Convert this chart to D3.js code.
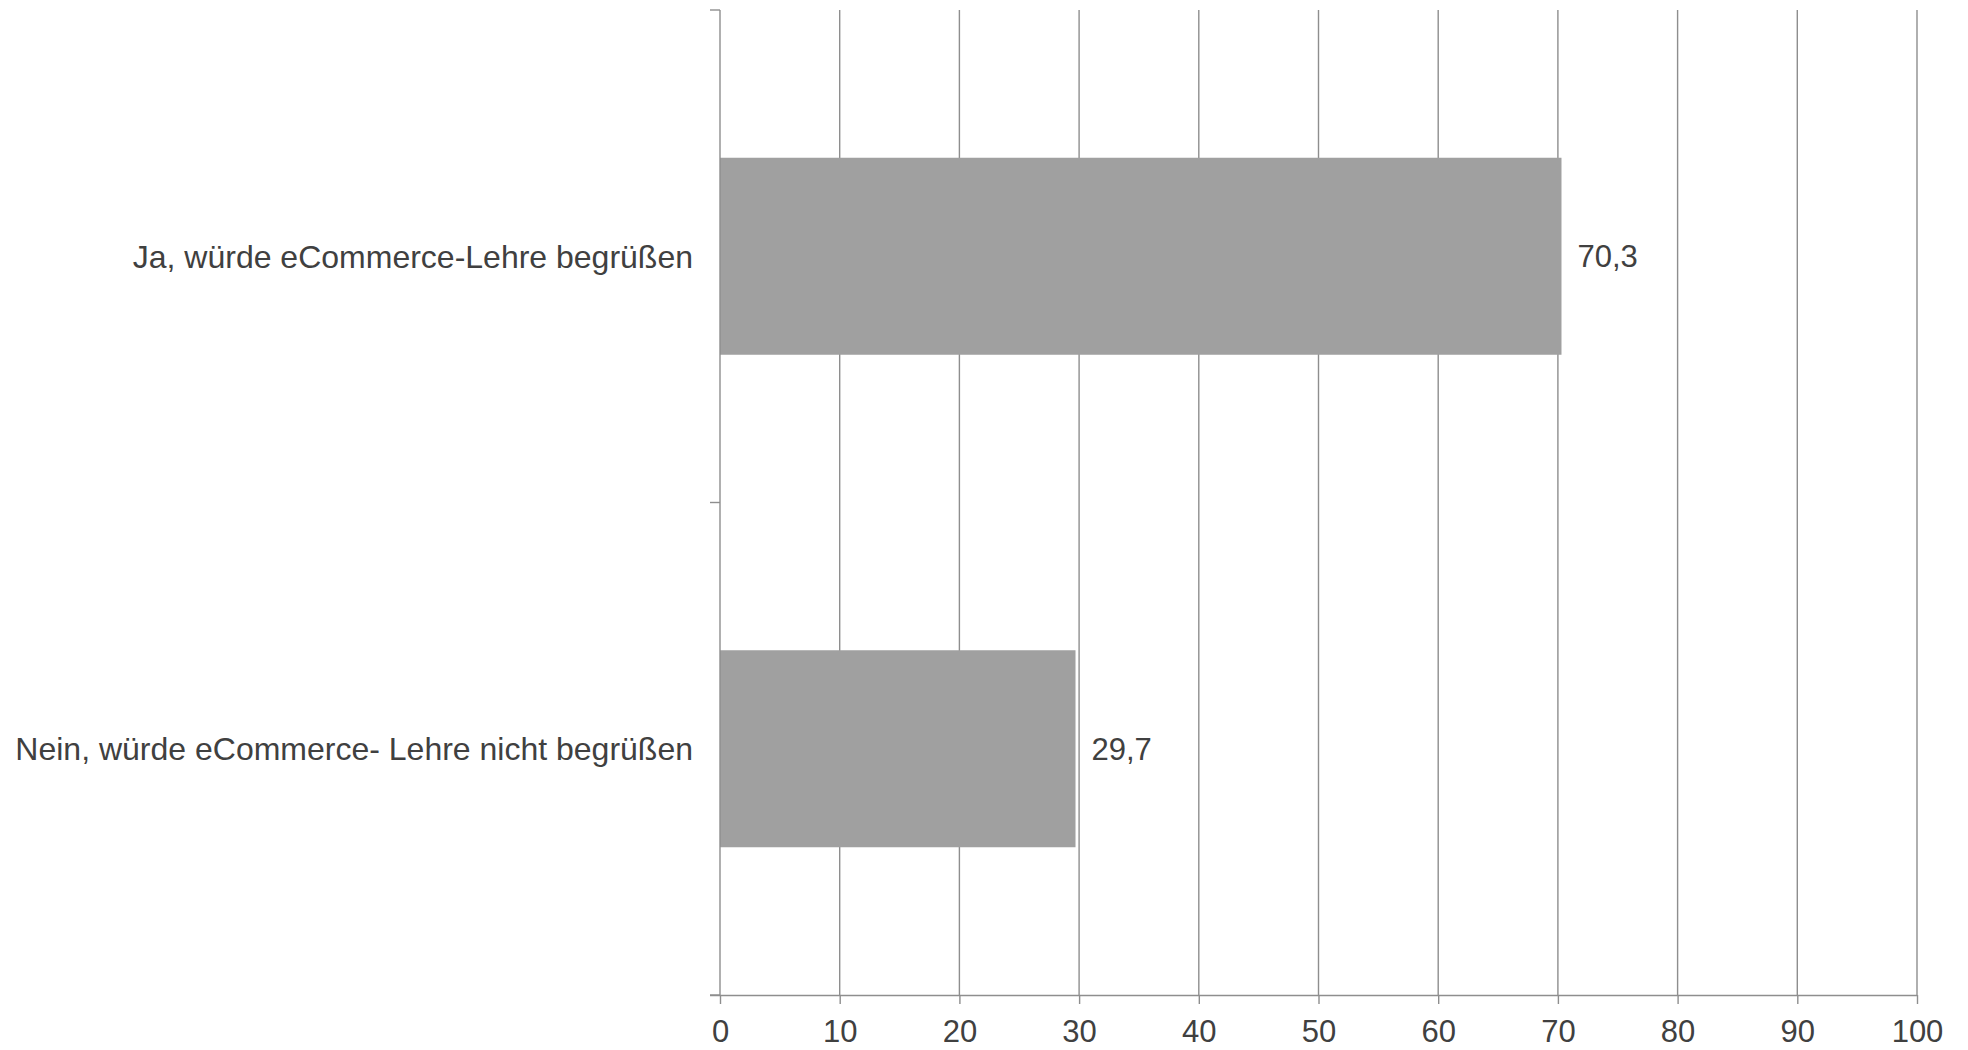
<!DOCTYPE html>
<html lang="de">
<head>
    <meta charset="UTF-8">
    <title>eCommerce-Lehre</title>
    <script src="https://d3js.org/d3.v7.min.js"></script>
    <style>
        body { margin: 0; background: #fff; }
        svg text { font-family: Arial, "Liberation Sans", sans-serif; fill: #404040; }
        .grid line { stroke: #8e8e8e; stroke-width: 1.4; }
        .axis path, .axis line { stroke: #8e8e8e; stroke-width: 1.4; }
    </style>
</head>
<body>
    <svg id="chart" width="1968" height="1050"></svg>

    <script>
        // data
        const categories = ["Ja, würde eCommerce-Lehre begrüßen", "Nein, würde eCommerce- Lehre nicht begrüßen"];
        const values = [70.3, 29.7];
        const xTicks = [0, 10, 20, 30, 40, 50, 60, 70, 80, 90, 100];

        const svg = d3.select("#chart");
        const mLeft = 720, mRight = 1917, mTop = 10, mBottom = 995;

        const x = d3.scaleLinear().domain([0, 100]).range([mLeft, mRight]);
        const y = d3.scaleBand().domain(categories).range([mTop, mBottom]).padding(0);
        const de = d3.formatLocale({ decimal: ",", thousands: ".", grouping: [3], currency: ["", " €"] });
        const fmt = de.format(".1f");

        // vertical gridlines
        svg.append("g")
            .attr("class", "grid")
            .selectAll("line")
            .data(xTicks.slice(1))
            .enter()
            .append("line")
            .attr("x1", d => x(d))
            .attr("x2", d => x(d))
            .attr("y1", mTop)
            .attr("y2", mBottom);

        // bars
        const bh = y.bandwidth() * 0.4;
        svg.append("g")
            .selectAll("rect")
            .data(categories)
            .enter()
            .append("rect")
            .attr("x", x(0))
            .attr("y", d => y(d) + (y.bandwidth() - bh) / 2)
            .attr("width", (d, i) => x(values[i]) - x(0))
            .attr("height", bh)
            .attr("fill", "#a0a0a0");

        // value labels
        svg.append("g")
            .selectAll("text")
            .data(categories)
            .enter()
            .append("text")
            .attr("x", (d, i) => x(values[i]) + 16)
            .attr("y", d => y(d) + y.bandwidth() / 2)
            .attr("dy", "0.36em")
            .style("font-size", "31px")
            .text((d, i) => fmt(values[i]));

        // x axis
        svg.append("g")
            .attr("class", "axis")
            .attr("transform", `translate(0,${mBottom})`)
            .call(d3.axisBottom(x).tickValues(xTicks).tickSizeInner(9).tickSizeOuter(0).tickPadding(16))
            .call(g => g.select(".domain").attr("d", `M${mLeft - 10},0.5H${mRight}`))
            .call(g => g.selectAll("text").style("font-size", "31px").attr("fill", "#404040"));

        // y axis line + ticks at band edges
        const yAxis = svg.append("g").attr("class", "axis");
        yAxis.append("line")
            .attr("x1", mLeft).attr("x2", mLeft)
            .attr("y1", mTop).attr("y2", mBottom);
        const edges = categories.map(c => y(c)).concat([y(categories[categories.length - 1]) + y.bandwidth()]);
        yAxis.selectAll(".edge")
            .data(edges)
            .enter()
            .append("line")
            .attr("class", "edge")
            .attr("x1", mLeft - 10).attr("x2", mLeft)
            .attr("y1", d => d).attr("y2", d => d);

        // category labels
        svg.append("g")
            .selectAll(".cat")
            .data(categories)
            .enter()
            .append("text")
            .attr("class", "cat")
            .attr("x", mLeft - 27)
            .attr("y", d => y(d) + y.bandwidth() / 2)
            .attr("dy", "0.36em")
            .attr("text-anchor", "end")
            .style("font-size", "32px")
            .text(d => d);
    </script>
</body>
</html>
